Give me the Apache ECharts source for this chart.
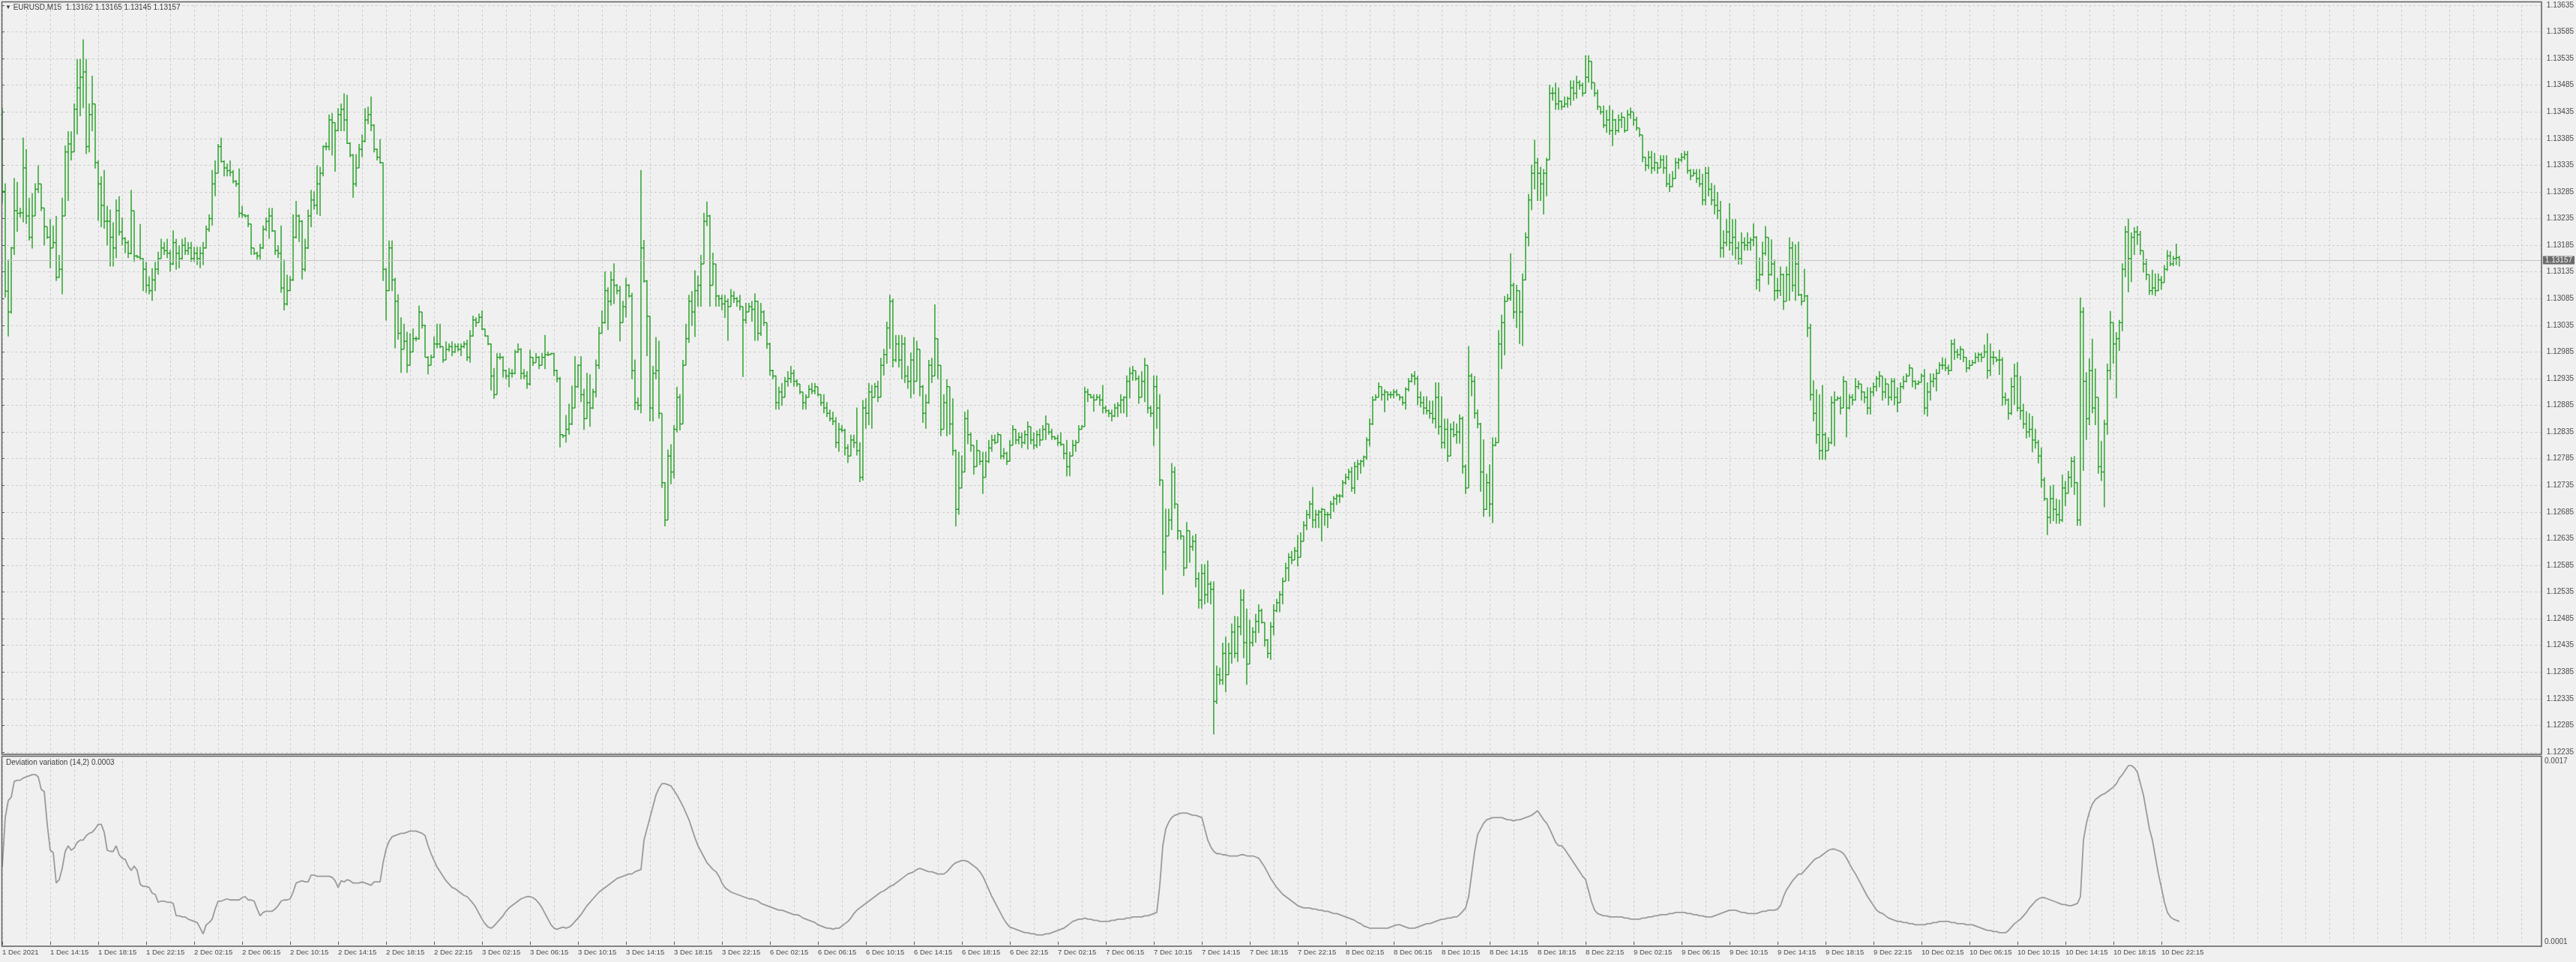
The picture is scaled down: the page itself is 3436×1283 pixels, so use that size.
<!DOCTYPE html>
<html>
<head>
<meta charset="utf-8">
<script src="https://cdn.jsdelivr.net/npm/echarts@6/dist/echarts.min.js"></script>
<style>
html,body{margin:0;padding:0;background:#f0f0f0;}
#chart{width:3436px;height:1283px;}
</style>
</head>
<body>
<div id="chart"></div>
<script>
// ---------------- DATA ----------------
const symbolName = 'EURUSD,M15';
const indicatorName = 'Deviation variation (14,2)';
// Prices are stored in points (0.00001) above 1.12000
const PRICE_BASE = 1.12;
const POINT = 0.00001;
const firstOpen = 1430;

const highPts = [
1443,1301,1158,1182,1311,1304,1255,1387,1365,1274,
1283,1301,1335,1300,1255,1220,1234,1222,1240,1167,
1274,1372,1399,1399,1451,1534,1534,1571,1534,1451,
1503,1450,1344,1314,1326,1259,1252,1228,1271,1277,
1237,1200,1194,1289,1250,1167,1225,1161,1154,1127,
1142,1154,1173,1197,1191,1197,1176,1213,1197,1185,
1197,1200,1191,1191,1182,1182,1182,1191,1222,1243,
1326,1344,1375,1387,1344,1338,1344,1326,1307,1329,
1259,1243,1243,1225,1180,1173,1188,1222,1237,1255,
1255,1213,1185,1222,1158,1130,1127,1243,1268,1243,
1232,1197,1252,1289,1286,1335,1332,1372,1378,1430,
1433,1415,1442,1451,1470,1467,1378,1356,1356,1375,
1393,1442,1445,1464,1412,1366,1384,1340,1142,1194,
1194,1124,1093,1050,1038,1023,1020,1029,1014,1072,
1060,1036,977,980,1014,1038,1038,995,1005,1001,
1005,1001,1001,1001,1005,1008,1026,1053,1050,1057,
1063,1028,1016,1001,955,983,983,977,952,955,
953,989,1001,992,953,949,989,975,983,977,
983,1017,986,983,983,952,938,830,867,888,
922,977,962,977,916,946,943,916,971,1032,
1063,1136,1106,1136,1151,1112,1109,1081,1124,1112,
1096,971,900,1326,1195,1120,1052,959,1013,1006,
870,741,802,812,848,920,906,970,1038,1092,
1099,1138,1128,1167,1246,1267,1242,1171,1150,1092,
1092,1092,1085,1103,1099,1088,1092,1070,1077,1077,
1081,1095,1081,1077,1063,1040,1002,952,941,920,
927,938,949,959,952,934,925,910,906,923,
927,927,920,906,906,891,877,873,863,852,
848,841,812,830,830,881,816,895,898,927,
923,927,931,974,991,1042,1092,1085,1017,1017,
1017,1013,959,984,1013,1006,990,923,906,970,
974,1074,1010,960,906,934,920,898,802,798,
791,873,877,834,810,820,800,798,798,820,
830,830,834,830,805,798,820,848,840,834,
834,838,855,845,834,838,841,848,866,850,
841,827,830,834,812,820,798,820,820,848,
848,920,916,906,906,906,906,923,884,877,
877,888,891,906,902,941,956,959,950,941,
949,974,960,884,941,941,906,745,691,691,
777,770,700,650,640,666,650,641,644,572,
587,587,594,555,555,397,393,440,451,440,
476,490,489,540,540,504,483,469,494,512,
504,478,447,479,512,522,537,562,590,608,
612,619,642,647,668,689,706,732,689,689,
693,690,685,706,715,719,719,745,757,766,
770,779,783,783,791,825,860,902,906,928,
920,915,911,911,915,915,905,902,919,936,
945,949,940,911,902,902,894,894,928,928,
902,860,860,851,855,851,868,864,774,996,
945,940,877,852,821,757,774,825,825,1026,
1055,1090,1094,1170,1115,1111,1100,1132,1209,1281,
1336,1383,1349,1332,1328,1349,1486,1481,1490,1481,
1456,1464,1464,1494,1494,1503,1494,1490,1541,1541,
1530,1490,1477,1445,1447,1439,1447,1439,1422,1430,
1434,1425,1439,1443,1435,1426,1405,1392,1350,1362,
1362,1358,1341,1354,1354,1354,1319,1324,1349,1349,
1358,1362,1362,1328,1328,1328,1328,1319,1332,1332,
1302,1298,1285,1268,1213,1234,1264,1234,1234,1192,
1209,1200,1209,1200,1226,1202,1162,1192,1221,1200,
1196,1158,1124,1145,1132,1145,1200,1192,1187,1192,
1094,1141,1092,1038,932,915,906,923,834,825,
902,911,902,902,940,930,906,906,936,932,
925,911,919,919,928,940,949,940,936,925,
936,936,919,928,940,945,962,955,932,932,
945,953,928,945,945,953,966,975,973,961,
1008,1010,991,996,990,975,970,970,984,984,
984,999,1020,1001,987,975,989,975,909,898,
937,963,966,940,888,874,870,865,841,820,
806,750,710,734,736,710,708,755,743,762,
788,790,741,1087,1069,947,973,1010,954,900,
818,858,963,1062,1040,1022,1045,1151,1221,1235,
1209,1219,1221,1212,1175,1160,1130,1139,1132,1132,
1127,1148,1176,1174,1165,1188,1165
];

const lowPts = [
1264,1087,1014,1057,1167,1210,1237,1228,1225,1194,
1179,1240,1283,1249,1185,1197,1142,1180,1118,1124,
1093,1240,1268,1344,1360,1393,1427,1442,1356,1359,
1399,1329,1231,1219,1216,1185,1145,1145,1161,1203,
1185,1170,1161,1168,1154,1161,1158,1099,1096,1093,
1081,1099,1130,1160,1167,1161,1136,1148,1139,1142,
1158,1167,1167,1154,1154,1148,1142,1148,1179,1210,
1222,1277,1320,1340,1314,1314,1314,1301,1295,1237,
1237,1237,1219,1167,1167,1158,1158,1178,1212,1197,
1210,1167,1161,1096,1063,1072,1099,1118,1198,1191,
1121,1136,1178,1219,1252,1243,1240,1314,1363,1363,
1353,1323,1399,1399,1399,1375,1350,1274,1295,1330,
1350,1378,1412,1399,1359,1344,1338,1118,1044,1099,
1099,992,1008,946,990,946,960,985,1005,1008,
1029,975,943,960,974,992,992,965,970,986,
977,983,986,977,992,968,965,1014,1032,1040,
1026,1014,998,913,897,905,971,937,934,919,
937,943,983,934,934,916,922,959,965,953,
960,953,977,980,940,928,806,824,815,830,
848,880,918,891,839,860,845,878,900,953,
1020,1038,1026,1072,1075,1093,1005,1040,1050,1087,
934,876,876,870,1115,977,855,855,934,860,
730,658,670,737,748,834,838,850,960,1002,
1034,1013,1070,1070,1150,1221,1070,1110,1070,1070,
1063,1049,1006,1070,1077,1070,1063,938,1038,1060,
1042,1006,1006,1015,1034,991,941,934,877,877,
884,900,920,927,920,920,906,877,877,900,
906,906,902,884,870,863,855,848,805,798,
834,791,777,790,805,791,741,744,841,848,
841,900,891,900,941,963,991,956,966,956,
934,927,916,898,906,930,902,852,841,888,
927,940,934,827,840,827,830,791,658,680,
730,760,812,798,755,770,773,719,750,777,
798,812,815,784,784,773,780,810,812,812,
805,812,802,812,802,805,809,820,820,830,
820,820,809,809,784,752,752,790,798,815,
840,845,891,898,873,895,884,870,870,863,
855,863,863,870,870,863,898,931,931,888,
900,891,870,863,809,841,734,530,576,640,
651,691,633,633,565,580,590,612,544,504,
504,512,515,512,268,325,361,361,347,380,
401,411,404,454,411,361,400,433,440,458,
476,433,411,408,454,497,497,512,555,555,
587,595,583,600,630,651,672,655,655,655,
630,659,655,672,685,698,702,712,736,745,
723,719,745,757,770,783,808,848,894,900,
894,872,894,898,898,902,894,885,877,911,
928,923,885,881,868,868,860,851,842,830,
804,804,779,790,825,813,813,757,719,730,
902,860,842,723,676,689,676,664,808,815,
953,979,1080,1081,1047,1030,1000,996,1119,1183,
1251,1290,1268,1268,1243,1277,1345,1456,1439,1439,
1439,1443,1443,1447,1456,1460,1477,1464,1470,1490,
1477,1464,1439,1430,1405,1396,1392,1371,1392,1396,
1405,1396,1400,1422,1409,1400,1388,1341,1324,1328,
1319,1324,1319,1330,1319,1294,1285,1294,1310,1328,
1341,1345,1319,1307,1315,1302,1294,1260,1260,1277,
1260,1243,1234,1162,1162,1183,1175,1166,1158,1149,
1149,1175,1175,1175,1183,1102,1098,1128,1166,1111,
1128,1081,1085,1090,1064,1080,1081,1098,1081,1090,
1072,1080,1013,894,855,813,783,783,783,800,
812,808,894,868,880,825,877,885,894,915,
894,889,868,868,902,911,919,894,898,885,
894,885,872,890,915,928,940,919,915,923,
928,868,864,894,919,911,945,952,949,942,
949,970,973,970,966,947,952,960,963,966,
966,975,935,940,961,966,942,884,886,858,
867,886,874,858,841,823,825,797,804,776,
731,706,642,663,668,663,663,666,696,720,
731,717,659,659,762,820,848,870,848,757,
743,694,830,933,963,898,987,1024,1125,1097,
1116,1167,1186,1167,1134,1120,1092,1092,1090,1099,
1102,1115,1137,1146,1146,1148,1145
];

const closePts = [
1286,1099,1060,1180,1250,1245,1246,1330,1240,1200,
1240,1290,1300,1255,1220,1200,1180,1190,1125,1140,
1240,1360,1375,1360,1440,1480,1500,1510,1370,1430,
1450,1340,1300,1260,1230,1230,1200,1180,1250,1210,
1198,1190,1170,1250,1165,1163,1160,1140,1110,1100,
1120,1140,1160,1180,1175,1170,1150,1190,1170,1160,
1185,1175,1180,1160,1170,1160,1170,1180,1215,1235,
1300,1320,1370,1342,1330,1325,1322,1305,1300,1245,
1242,1240,1225,1180,1170,1165,1180,1215,1230,1240,
1212,1175,1170,1105,1075,1100,1120,1200,1240,1230,
1140,1180,1240,1270,1260,1300,1320,1370,1370,1420,
1415,1400,1430,1440,1420,1376,1354,1300,1330,1365,
1380,1420,1430,1410,1365,1350,1340,1140,1100,1180,
1120,1080,1020,990,1005,960,985,1010,1010,1060,
1035,975,960,975,1000,1000,995,970,990,995,
985,995,990,995,1000,975,1015,1045,1040,1050,
1028,1015,1000,940,905,975,975,950,940,945,
945,985,990,945,940,925,975,965,975,960,
975,980,980,982,950,935,830,828,840,850,
880,920,960,905,860,890,880,910,960,1020,
1040,1100,1080,1120,1110,1100,1040,1070,1110,1090,
950,890,885,1180,1118,1052,880,945,950,870,
740,670,790,760,840,900,850,960,1010,1080,
1060,1100,1110,1150,1230,1240,1110,1150,1090,1085,
1075,1080,1070,1090,1085,1080,1070,1045,1060,1070,
1065,1080,1020,1060,1040,1000,950,940,890,910,
900,930,935,945,930,925,910,890,900,915,
912,920,905,890,880,870,860,855,815,840,
838,805,790,820,815,800,750,880,870,910,
900,920,900,960,980,1030,1080,970,1000,970,
1000,940,930,970,930,990,920,870,890,960,
940,1010,960,840,890,920,850,800,690,730,
760,860,830,810,770,800,780,750,780,805,
820,815,830,790,795,780,810,840,820,825,
815,830,845,820,810,830,820,840,850,835,
826,823,815,812,795,770,790,810,815,840,
845,910,905,900,895,900,895,880,875,870,
865,880,885,895,900,930,945,950,935,900,
930,960,880,870,920,880,745,610,640,670,
760,700,650,640,580,650,620,630,560,520,
570,530,550,540,330,380,370,420,380,420,
460,420,470,520,440,400,440,460,480,500,
478,445,420,470,500,515,530,555,580,600,
595,612,600,630,660,680,700,670,680,685,
690,680,680,700,710,715,715,740,750,760,
730,770,775,780,788,820,850,895,900,920,
905,910,905,905,910,905,900,890,915,930,
940,935,900,890,880,875,870,860,900,845,
815,840,790,840,830,835,860,770,730,940,
930,870,850,760,690,740,700,810,815,1000,
1040,1080,1085,1110,1060,1100,1060,1120,1200,1270,
1320,1340,1320,1300,1320,1345,1470,1470,1450,1455,
1445,1450,1460,1480,1470,1490,1485,1470,1500,1530,
1490,1470,1445,1435,1410,1420,1400,1420,1400,1420,
1425,1400,1430,1435,1420,1405,1392,1350,1335,1350,
1330,1340,1330,1345,1330,1300,1295,1310,1340,1345,
1350,1355,1325,1315,1320,1310,1300,1270,1320,1290,
1270,1260,1250,1180,1190,1210,1190,1200,1180,1160,
1190,1185,1190,1195,1200,1120,1130,1170,1200,1130,
1150,1100,1100,1130,1080,1130,1180,1110,1150,1092,
1080,1090,1030,905,870,830,800,830,800,815,
890,895,898,880,930,880,900,895,920,925,
910,900,880,910,920,935,940,910,925,900,
930,900,890,920,930,940,955,930,925,928,
940,880,910,930,935,945,960,960,955,950,
1000,985,980,990,975,955,960,965,975,980,
975,985,950,975,975,970,970,900,895,870,
920,940,880,875,850,835,840,820,815,790,
745,710,675,710,690,680,670,730,720,750,
780,740,670,1060,930,860,950,880,900,770,
760,850,950,1040,1000,1010,1040,1140,1210,1160,
1200,1210,1205,1175,1150,1130,1100,1105,1100,1120,
1115,1140,1165,1150,1160,1162,1157
];

// indicator values in units of 0.00001
const devPts = [
76,120,135,138,152,153,153,155,156,157,
158,158,156,145,143,114,91,89,62,65,
75,90,95,91,93,98,100,100,104,106,
107,110,114,114,107,91,90,90,95,87,
84,83,77,73,77,73,61,59,59,58,
53,52,45,46,46,45,45,44,33,33,
32,32,30,29,28,27,22,17,25,27,
30,39,46,46,47,48,47,47,47,47,
49,50,47,47,46,39,33,36,37,37,
37,39,42,46,47,47,48,54,62,63,
64,63,63,69,69,68,68,68,68,68,
67,64,58,64,63,65,64,62,62,62,
63,62,61,60,63,63,63,80,92,99,
103,104,105,106,106,107,108,108,108,107,
106,104,95,88,82,76,72,68,64,61,
58,57,55,53,51,50,47,44,40,35,
30,26,23,22,24,27,30,33,37,40,
42,44,46,48,49,50,50,49,47,44,
40,35,30,25,22,21,22,23,22,23,
25,28,31,34,38,42,45,48,51,54,
56,58,60,62,64,66,67,68,69,70,
70,72,73,74,100,110,120,130,140,146,
150,150,149,148,144,140,135,130,124,118,
110,102,95,90,85,80,77,74,72,68,
62,58,56,54,53,52,51,50,49,48,
48,47,46,44,43,42,41,40,39,38,
38,37,36,35,34,34,33,31,30,29,
28,27,25,24,23,22,22,21,22,22,
24,26,28,31,35,38,40,42,44,46,
48,50,52,54,55,57,59,60,62,64,
66,68,70,71,72,74,75,74,73,72,
72,71,70,70,70,72,75,78,80,81,
82,82,81,79,77,75,72,68,62,56,
50,45,40,35,30,26,23,22,21,20,
19,18,18,17,17,16,16,16,17,17,
18,19,20,21,22,24,26,28,29,30,
30,31,30,30,29,29,28,28,28,28,
29,29,30,30,30,31,31,32,32,32,
32,33,33,34,35,36,60,95,110,116,
120,122,123,124,124,124,123,122,122,121,
120,110,100,94,90,88,88,87,87,86,
86,86,86,87,87,86,86,86,85,84,
80,76,71,66,62,58,55,52,50,48,
46,44,42,41,40,40,40,39,39,38,
38,37,37,36,35,35,34,33,32,31,
30,29,27,26,24,23,22,22,22,22,
22,22,22,23,24,25,25,24,23,22,
22,22,23,24,25,26,26,27,28,29,
30,30,31,31,32,32,34,37,40,50,
70,90,105,110,115,118,119,120,120,120,
120,119,118,118,117,118,118,119,120,121,
122,124,126,122,118,115,110,104,98,95,
95,92,88,84,80,76,72,68,65,55,
45,38,35,34,33,33,32,32,32,32,
32,31,31,30,30,30,30,31,31,32,
32,33,33,34,34,34,35,35,36,36,
36,36,35,35,34,34,33,33,32,32,
32,33,34,35,36,37,38,38,38,37,
36,36,35,35,35,35,36,37,37,38,
38,38,39,42,50,56,60,64,67,70,
70,73,76,79,82,84,85,87,89,91,
92,92,91,90,88,84,79,74,70,65,
60,55,50,46,42,38,36,35,33,31,
30,29,28,28,27,27,26,26,25,25,
25,25,26,26,27,27,28,28,28,28,
27,27,26,26,26,25,25,25,24,23,
22,21,20,20,19,19,18,18,18,20,
23,26,28,30,33,36,40,43,46,48,
49,49,48,47,46,45,44,43,43,42,
42,43,44,50,100,115,125,132,136,138,
140,141,143,145,147,150,155,158,162,166,
166,164,160,150,140,125,110,100,85,70,
58,45,36,32,30,29,28
];

// price scale ticks (points above 1.12): 1.12235 ... 1.13635 every 0.0005
const priceTickLow = 235;
const priceTickHigh = 1635;
const priceTickStep = 50;
// indicator scale ticks: 0.0001 and 0.0017
const devTickLow = 10;
const devTickHigh = 170;

const timeLabels = [
'1 Dec 2021','1 Dec 14:15','1 Dec 18:15','1 Dec 22:15',
'2 Dec 02:15','2 Dec 06:15','2 Dec 10:15','2 Dec 14:15','2 Dec 18:15','2 Dec 22:15',
'3 Dec 02:15','3 Dec 06:15','3 Dec 10:15','3 Dec 14:15','3 Dec 18:15','3 Dec 22:15',
'6 Dec 02:15','6 Dec 06:15','6 Dec 10:15','6 Dec 14:15','6 Dec 18:15','6 Dec 22:15',
'7 Dec 02:15','7 Dec 06:15','7 Dec 10:15','7 Dec 14:15','7 Dec 18:15','7 Dec 22:15',
'8 Dec 02:15','8 Dec 06:15','8 Dec 10:15','8 Dec 14:15','8 Dec 18:15','8 Dec 22:15',
'9 Dec 02:15','9 Dec 06:15','9 Dec 10:15','9 Dec 14:15','9 Dec 18:15','9 Dec 22:15',
'10 Dec 02:15','10 Dec 06:15','10 Dec 10:15','10 Dec 14:15','10 Dec 18:15','10 Dec 22:15'
];
const barsPerLabel = 16;
const barsPerGridLine = 8;

// ---------------- BUILD ----------------
const N = Math.min(highPts.length, lowPts.length, closePts.length);
const openPts = closePts.slice(0, N).map((c, i) => i === 0 ? firstOpen : closePts[i - 1]);
const fmtPrice = p => (PRICE_BASE + p * POINT).toFixed(5);

const barData = [];
for (let i = 0; i < N; i++) {
  barData.push([i, openPts[i] - priceTickLow, highPts[i] - priceTickLow, lowPts[i] - priceTickLow, closePts[i] - priceTickLow]);
}
const devData = devPts.map((v, i) => [i, v - devTickLow]);
const labelIdx = timeLabels.map((_, k) => k * barsPerLabel);

const last = N - 1;
const titleText = '{tri|\u25BC} ' + symbolName + '  ' + fmtPrice(openPts[last]) + ' ' + fmtPrice(highPts[last]) + ' ' +
  fmtPrice(lowPts[last]) + ' ' + fmtPrice(closePts[last]);
const indTitle = indicatorName + ' ' + (devPts[devPts.length - 1] * POINT).toFixed(4);

// layout
const W = 3436;
const plotLeft = 3, plotRight = 3390;
const barStep = 4;
const xMax = (plotRight - plotLeft) / barStep;
const FONT = '"Liberation Sans", Arial, sans-serif';
const gridColor = '#cdcdcd';
const textColor = '#4a4a4a';
const barColor = '#1f9d1f';

const chart = echarts.init(document.getElementById('chart'), null, {renderer: 'canvas'});

const option = {
  backgroundColor: '#f0f0f0',
  animation: false,
  grid: [
    {left: plotLeft, right: W - plotRight, top: 7, height: 996},
    {left: plotLeft, right: W - plotRight, top: 1015, height: 241}
  ],
  xAxis: [
    {type: 'value', gridIndex: 0, min: 0, max: xMax, interval: barsPerGridLine,
     axisLine: {show: false}, axisTick: {show: false}, axisLabel: {show: false},
     splitLine: {show: true, lineStyle: {color: gridColor, type: [3, 3], width: 1}}},
    {type: 'value', gridIndex: 1, position: 'bottom', offset: 6, min: 0, max: xMax, interval: barsPerLabel,
     axisLine: {show: false},
     axisTick: {show: true, length: 4, customValues: labelIdx, lineStyle: {color: '#555', width: 1}},
     axisLabel: {show: true, customValues: labelIdx, align: 'left', margin: 3, fontSize: 9.5, fontFamily: FONT, color: textColor,
       formatter: v => { const k = Math.round(v / barsPerLabel); return (v % barsPerLabel === 0 && timeLabels[k]) ? timeLabels[k] : ''; }},
     splitLine: {show: false}},
    {type: 'value', gridIndex: 1, min: 0, max: xMax, interval: barsPerGridLine,
     axisLine: {show: false}, axisTick: {show: false}, axisLabel: {show: false},
     splitLine: {show: true, lineStyle: {color: gridColor, type: [3, 3], width: 1}}}
  ],
  yAxis: [
    {type: 'value', gridIndex: 0, position: 'right', min: 0, max: priceTickHigh - priceTickLow, interval: priceTickStep,
     axisLine: {show: false},
     axisTick: {show: true, length: 3, lineStyle: {color: '#555', width: 1}},
     axisLabel: {margin: 7, fontSize: 10, fontFamily: FONT, color: textColor, formatter: v => fmtPrice(v + priceTickLow)},
     splitLine: {show: true, lineStyle: {color: gridColor, type: [3, 3], width: 1}}},
    {type: 'value', gridIndex: 1, position: 'right', min: 0, max: devTickHigh - devTickLow, interval: devTickHigh - devTickLow,
     axisLine: {show: false}, axisTick: {show: false},
     axisLabel: {margin: 4, fontSize: 10, fontFamily: FONT, color: textColor, formatter: v => ((v + devTickLow) * POINT).toFixed(4)},
     splitLine: {show: false}}
  ],
  series: [
    {
      type: 'custom', name: 'bars', xAxisIndex: 0, yAxisIndex: 0,
      data: barData, encode: {x: 0, y: [1, 2, 3, 4]},
      progressive: 0, silent: true,
      renderItem: function (params, api) {
        const i = api.value(0);
        const pO = api.coord([i, api.value(1)]);
        const pH = api.coord([i, api.value(2)]);
        const pL = api.coord([i, api.value(3)]);
        const pC = api.coord([i, api.value(4)]);
        const x = pH[0];
        const yO = Math.min(Math.max(pO[1], pH[1]), pL[1]);
        const yC = Math.min(Math.max(pC[1], pH[1]), pL[1]);
        const st = {stroke: barColor, lineWidth: 1.4};
        return {type: 'group', children: [
          {type: 'line', shape: {x1: x, y1: pH[1], x2: x, y2: pL[1]}, style: st},
          {type: 'line', shape: {x1: x - 2, y1: yO, x2: x, y2: yO}, style: st},
          {type: 'line', shape: {x1: x, y1: yC, x2: x + 2, y2: yC}, style: st}
        ]};
      },
      markLine: {
        silent: true, symbol: ['none', 'none'], animation: false,
        lineStyle: {color: '#c2c2c2', type: 'solid', width: 1},
        label: {show: true, position: 'end', distance: 2, formatter: () => fmtPrice(closePts[last]),
          backgroundColor: '#6b6b6b', color: '#f4f4f4', padding: [1, 3, 0, 3], fontSize: 10, fontFamily: FONT},
        data: [{yAxis: closePts[last] - priceTickLow}]
      },
      z: 3
    },
    {
      type: 'line', name: 'dev', xAxisIndex: 1, yAxisIndex: 1,
      data: devData, showSymbol: false, symbol: 'none', clip: false, silent: true,
      lineStyle: {color: '#9a9a9a', width: 1.8}, z: 3
    }
  ],
  graphic: [
    {type: 'rect', silent: true, z: 50, shape: {x: 2.5, y: 2.5, width: plotRight - 2.5, height: 1003.5},
     style: {fill: 'none', stroke: '#5e5e5e', lineWidth: 1.5}},
    {type: 'rect', silent: true, z: 50, shape: {x: 2.5, y: 1008.5, width: plotRight - 2.5, height: 253.5},
     style: {fill: 'none', stroke: '#5e5e5e', lineWidth: 1.5}},
    {type: 'text', silent: true, z: 60, x: 7, y: 5,
     style: {text: titleText, fill: '#3c3c3c', font: '10px ' + FONT, rich: {tri: {fontSize: 8, fill: '#3c3c3c', fontFamily: FONT}}}},
    {type: 'text', silent: true, z: 60, x: 8, y: 1012,
     style: {text: indTitle, fill: '#3c3c3c', font: '10px ' + FONT}}
  ]
};
chart.setOption(option);
</script>
</body>
</html>
